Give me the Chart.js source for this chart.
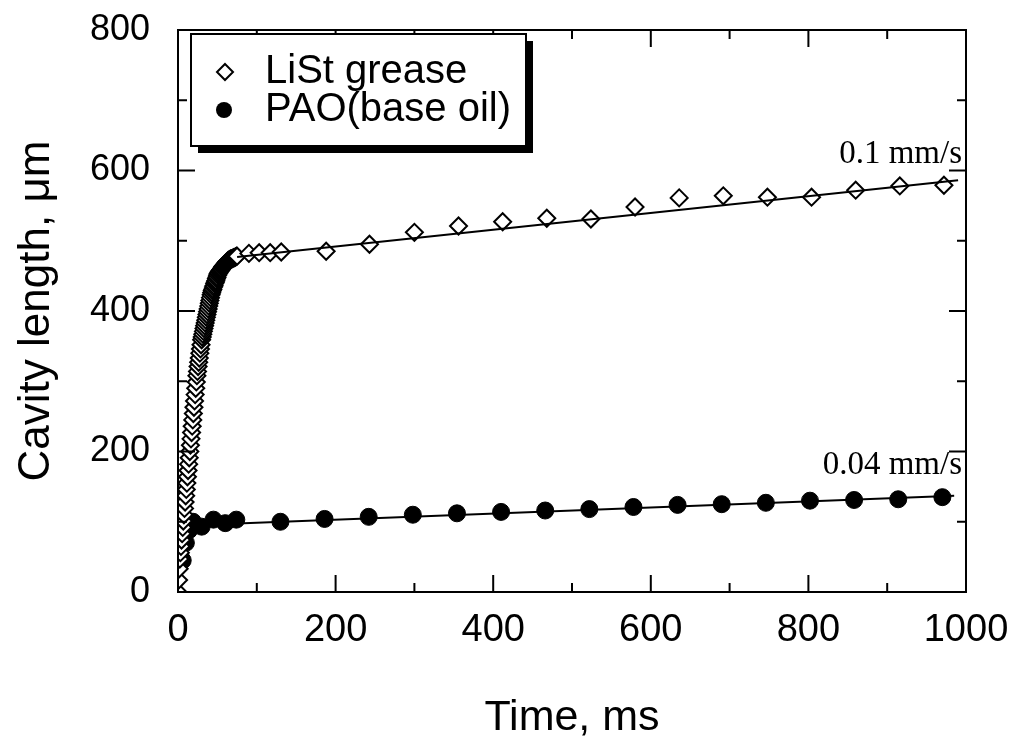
<!DOCTYPE html>
<html>
<head>
<meta charset="utf-8">
<script src="https://cdn.jsdelivr.net/npm/chart.js@4.4.1/dist/chart.umd.min.js"></script>
<style>
  html, body { margin: 0; padding: 0; background: #fff; }
  #wrap { width: 1019px; height: 748px; }
</style>
</head>
<body>
<div id="wrap"><canvas id="chart" width="1019" height="748"></canvas></div>
<script>
// 数据: LiSt grease (时间 ms, 长度 µm)
const greaseTime = [
  0, 0.75, 1.5, 2.25, 3, 3.75, 4.5, 5.25, 6, 6.75, 7.5, 8.25, 9, 9.75, 10.5, 11.25,
  12, 12.75, 13.5, 14.25, 15, 15.75, 16.5, 17.25, 18, 18.75, 19.5, 20.25, 21, 21.75,
  22.5, 23.25, 24, 24.75, 25.5, 26.25, 27, 27.75, 28.5, 29.25, 30, 30.75, 31.5, 32.25,
  33, 33.75, 34.5, 35.25, 36, 36.75, 37.5, 38.25, 39, 39.75, 40.5, 41.25, 42, 42.75,
  43.5, 44.25, 45, 45.75, 46.5, 47.25, 48, 48.75, 49.5, 50.25, 51, 51.75, 52.5, 53.25,
  54, 54.75, 55.5, 56.25, 57, 57.75, 58.5, 59.25, 60, 60.75, 61.5, 62.25, 63, 63.75,
  64.5, 65.25, 66, 66.75, 67.5, 68.25, 69, 69.75, 70.5, 71.25, 72, 72.75, 73.5, 74.25, 75,
  90, 103, 117, 131,
  188, 243, 300, 356, 412, 468, 524, 580, 636, 692, 748, 804, 860, 916, 972
];
const greaseLen = [
  0, 17, 33, 47, 56, 65, 74, 83, 92, 101, 110, 119, 128, 137, 146, 155,
  164, 173, 182, 191, 200, 209, 218, 227, 236, 245, 254, 263, 272, 281,
  290, 299, 308, 314, 321, 327, 333, 340, 346, 352, 359, 363, 367, 371,
  375, 379, 383, 387, 391, 395, 399, 403, 407, 411, 415, 419, 423, 426,
  429, 431, 434, 436, 439, 441, 443, 446, 448, 451, 453, 454, 456, 457,
  458, 459, 460, 462, 463, 464, 465, 466, 467, 468, 469, 470, 471, 472,
  472, 473, 473, 474, 474, 474, 475, 475, 476, 476, 476, 477, 477, 478, 478,
  482, 483, 483, 484,
  485, 495, 512, 521, 527, 532, 531, 548, 561, 564, 562, 562, 572, 578, 579
];

// 数据: PAO(base oil)
const paoTime = [6, 10, 14, 19, 30, 45, 60, 74, 130, 186, 242, 298, 354, 410, 466, 522, 578, 634, 690, 746, 802, 858, 914, 970];
const paoLen  = [45, 70, 88, 100, 93, 103, 98, 103, 100, 104, 107, 110, 112, 114, 116, 118, 121, 124, 125, 127, 130, 131, 132, 135];

// 拟合直线端点
const greaseFitTime = [75, 990];
const greaseFitLen  = [477, 586];
const paoFitTime = [18, 985];
const paoFitLen  = [95, 137];

// 坐标轴刻度
const xTicks = [0, 200, 400, 600, 800, 1000];
const yTicks = [0, 200, 400, 600, 800];

const seriesNames = ['LiSt grease', 'PAO(base oil)'];
const slopeLabels = ['0.1 mm/s', '0.04 mm/s'];
const slopeLabelPos = [[1000, 610], [1000, 168]];

const toXY = (ts, vs) => ts.map((t, i) => ({ x: t, y: vs[i] }));

const SANS = "'Liberation Sans', Arial, sans-serif";
const SERIF = "'Liberation Serif', 'Times New Roman', serif";

// 边框和内向刻度
const framePlugin = {
  id: 'frame',
  afterDraw(chart) {
    const { ctx, chartArea: a, scales: { x, y } } = chart;
    ctx.save();
    ctx.strokeStyle = '#000';
    ctx.lineWidth = 2;
    ctx.strokeRect(a.left, a.top, a.right - a.left, a.bottom - a.top);
    ctx.beginPath();
    for (let v = 0; v <= 1000; v += 100) {
      const px = x.getPixelForValue(v);
      const len = v % 200 === 0 ? 17 : 9;
      ctx.moveTo(px, a.bottom); ctx.lineTo(px, a.bottom - len);
      ctx.moveTo(px, a.top); ctx.lineTo(px, a.top + len);
    }
    for (let v = 0; v <= 800; v += 100) {
      const py = y.getPixelForValue(v);
      const len = v % 200 === 0 ? 17 : 9;
      ctx.moveTo(a.left, py); ctx.lineTo(a.left + len, py);
      ctx.moveTo(a.right, py); ctx.lineTo(a.right - len, py);
    }
    ctx.stroke();

    // 斜率标注
    ctx.fillStyle = '#000';
    ctx.font = '33px ' + SERIF;
    ctx.textAlign = 'right';
    ctx.textBaseline = 'alphabetic';
    slopeLabels.forEach((txt, i) => {
      const [vx, vy] = slopeLabelPos[i];
      ctx.fillText(txt, x.getPixelForValue(vx) - 4, y.getPixelForValue(vy));
    });

    // 图例(带阴影的方框)
    const bx = 191, by = 34, bw = 335, bh = 112;
    ctx.fillStyle = '#000';
    ctx.fillRect(bx + 7, by + 7, bw, bh);
    ctx.fillStyle = '#fff';
    ctx.fillRect(bx, by, bw, bh);
    ctx.lineWidth = 2;
    ctx.strokeRect(bx, by, bw, bh);
    ctx.font = '40px ' + SANS;
    ctx.textAlign = 'left';
    ctx.textBaseline = 'middle';
    const rows = [by + 38, by + 76];
    // 菱形
    ctx.beginPath();
    ctx.moveTo(bx + 34, rows[0] - 8); ctx.lineTo(bx + 42, rows[0]);
    ctx.lineTo(bx + 34, rows[0] + 8); ctx.lineTo(bx + 26, rows[0]);
    ctx.closePath();
    ctx.fillStyle = '#fff'; ctx.fill(); ctx.stroke();
    // 圆
    ctx.beginPath();
    ctx.arc(bx + 33, rows[1], 8, 0, Math.PI * 2);
    ctx.fillStyle = '#000'; ctx.fill();
    seriesNames.forEach((n, i) => ctx.fillText(n, bx + 74, rows[i]));
    ctx.restore();
  }
};

new Chart(document.getElementById('chart'), {
  type: 'scatter',
  data: {
    datasets: [
      { label: 'fit1', data: toXY(greaseFitTime, greaseFitLen), showLine: true, borderColor: '#000', borderWidth: 2, pointRadius: 0 },
      { label: 'fit2', data: toXY(paoFitTime, paoFitLen), showLine: true, borderColor: '#000', borderWidth: 2, pointRadius: 0 },
      { label: seriesNames[0], data: toXY(greaseTime, greaseLen), pointStyle: 'rectRot', pointRadius: 8.5,
        backgroundColor: '#fff', borderColor: '#000', borderWidth: 2 },
      { label: seriesNames[1], data: toXY(paoTime, paoLen), pointStyle: 'circle', pointRadius: 8.5,
        backgroundColor: '#000', borderColor: '#000', borderWidth: 1 }
    ]
  },
  options: {
    responsive: false,
    animation: false,
    devicePixelRatio: 1,
    layout: { padding: { left: 0, right: 53, top: 30, bottom: 0 } },
    plugins: { legend: { display: false }, tooltip: { enabled: false } },
    scales: {
      x: {
        type: 'linear', min: 0, max: 1000,
        afterBuildTicks: s => { s.ticks = xTicks.map(v => ({ value: v })); },
        afterFit: s => { s.height = 156; s.paddingLeft = 0; s.paddingRight = 0; },
        grid: { display: false, drawTicks: false },
        border: { display: false },
        ticks: { color: '#000', font: { family: SANS, size: 38 }, padding: 16, maxRotation: 0, callback: v => String(v) },
        title: { display: true, text: 'Time, ms', color: '#000', font: { family: SANS, size: 43 }, padding: { top: 0, bottom: 4 } }
      },
      y: {
        type: 'linear', min: 0, max: 800,
        afterBuildTicks: s => { s.ticks = yTicks.map(v => ({ value: v })); },
        afterFit: s => { s.width = 178; s.paddingTop = 0; s.paddingBottom = 0; },
        grid: { display: false, drawTicks: false },
        border: { display: false },
        ticks: { color: '#000', font: { family: SANS, size: 36 }, padding: 28, callback: v => String(v) },
        title: { display: true, text: 'Cavity length, μm', color: '#000', font: { family: SANS, size: 44 }, padding: { top: 10, bottom: 0 } }
      }
    }
  },
  plugins: [framePlugin]
});
</script>
</body>
</html>
